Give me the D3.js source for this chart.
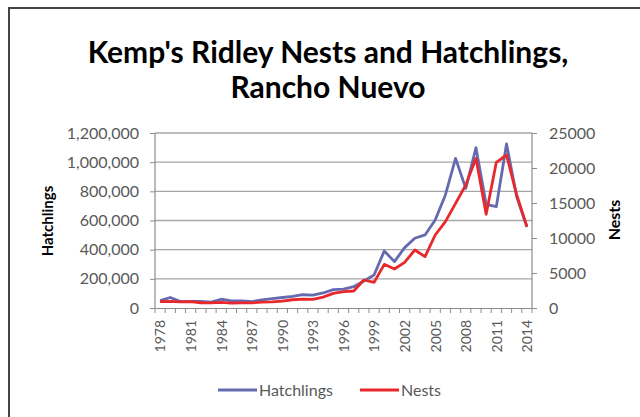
<!DOCTYPE html>
<meta charset="utf-8">
<style>
  body { margin: 0; background: #fff; }
  text { font-family: Lato, "Open Sans", sans-serif; }
</style>
<body>
  <div id="chart"></div>
  <script src="https://d3js.org/d3.v7.min.js"></script>
  <script>
    // years on the category axis
    var years = d3.range(1978, 2015);

    // hatchlings (left axis)
    var hatchlings = [51000, 72000, 44000, 46000, 45000, 40000, 60000, 49000, 49000, 44000,
      56000, 65000, 72000, 79000, 91000, 88000, 103000, 126000, 130000, 146000,
      185000, 226000, 391000, 318000, 414000, 478000, 501000, 603000, 775000, 1026000,
      820000, 1099000, 711000, 695000, 1125000, 763000, 555000];

    // nests (right axis)
    var nests = [924, 954, 868, 897, 750, 746, 798, 702, 744, 737,
      842, 878, 992, 1178, 1275, 1241, 1562, 2095, 2333, 2429,
      4000, 3667, 6238, 5571, 6524, 8286, 7333, 10429, 12333, 14952,
      17571, 21381, 13381, 20810, 21857, 16143, 11619];

    var leftTicks = [0, 200000, 400000, 600000, 800000, 1000000, 1200000];
    var rightTicks = [0, 5000, 10000, 15000, 20000, 25000];
    var yearLabels = d3.range(1978, 2015, 3);

    var W = 640, H = 417;
    var margin = { top: 133, right: 108, bottom: 109, left: 155 },
      width = W - margin.left - margin.right,
      height = H - margin.top - margin.bottom;

    var svg = d3.select("#chart").append("svg")
      .attr("width", W)
      .attr("height", H);

    // frame (only top and left edges visible)
    svg.append("line").attr("x1", 8).attr("x2", W).attr("y1", 8).attr("y2", 8)
      .attr("stroke", "#444").attr("stroke-width", 2);
    svg.append("line").attr("x1", 9).attr("x2", 9).attr("y1", 8).attr("y2", H)
      .attr("stroke", "#444").attr("stroke-width", 2);

    // title
    var title = svg.append("text")
      .attr("text-anchor", "middle")
      .attr("font-weight", "bold")
      .attr("font-size", 30)
      .attr("fill", "#000");
    title.append("tspan").attr("x", 328).attr("y", 63).text("Kemp's Ridley Nests and Hatchlings,");
    title.append("tspan").attr("x", 328).attr("y", 98).text("Rancho Nuevo");

    var g = svg.append("g")
      .attr("transform", "translate(" + margin.left + "," + margin.top + ")");

    var x = d3.scaleBand().domain(years).range([0, width]);
    var yL = d3.scaleLinear().domain([0, 1200000]).range([height, 0]);
    var yR = d3.scaleLinear().domain([0, 25000]).range([height, 0]);

    // gridlines
    g.append("g")
      .selectAll("line")
      .data(leftTicks.slice(1))
      .enter().append("line")
      .attr("x1", 0).attr("x2", width)
      .attr("y1", function(d) { return yL(d); })
      .attr("y2", function(d) { return yL(d); })
      .attr("stroke", "#a6a6a6")
      .attr("stroke-width", 1.4);

    // left axis
    var axL = g.append("g")
      .call(d3.axisLeft(yL).tickValues(leftTicks).tickFormat(d3.format(",")).tickSize(5).tickPadding(11));
    // right axis
    var axR = g.append("g")
      .attr("transform", "translate(" + width + ",0)")
      .call(d3.axisRight(yR).tickValues(rightTicks).tickFormat(d3.format("d")).tickSize(5).tickPadding(12));
    // bottom axis
    var axB = g.append("g")
      .attr("transform", "translate(0," + height + ")")
      .call(d3.axisBottom(x).tickSize(0).tickFormat(function(d) { return yearLabels.indexOf(d) >= 0 ? d : ""; }));

    // category tick marks between bands
    g.append("g").selectAll("line")
      .data(years.concat([2015]))
      .enter().append("line")
      .attr("x1", function(d, i) { return i * x.step(); })
      .attr("x2", function(d, i) { return i * x.step(); })
      .attr("y1", height).attr("y2", height + 5)
      .attr("stroke", "#8c8c8c");

    [axL, axR, axB].forEach(function(a) {
      a.select(".domain").attr("stroke", "#8c8c8c").attr("stroke-width", 1.2);
      a.selectAll(".tick line").attr("stroke", "#8c8c8c");
      a.selectAll("text").attr("fill", "#595959").attr("font-size", 16)
        .style("font-family", "Lato, 'Open Sans', sans-serif");
    });
    axL.select(".domain").attr("d", "M0," + height + "V0");
    axR.select(".domain").attr("d", "M0," + height + "V0");

    axB.selectAll("text")
      .attr("transform", "rotate(-90)")
      .attr("text-anchor", "end")
      .attr("font-size", 14)
      .attr("x", -12)
      .attr("y", 0)
      .attr("dy", "0.38em");

    // lines
    var lineH = d3.line()
      .x(function(d, i) { return x(years[i]) + x.bandwidth() / 2; })
      .y(function(d) { return yL(d); });
    var lineN = d3.line()
      .x(function(d, i) { return x(years[i]) + x.bandwidth() / 2; })
      .y(function(d) { return yR(d); });

    g.append("path").datum(hatchlings)
      .attr("d", lineH)
      .attr("fill", "none")
      .attr("stroke", "#6569b0")
      .attr("stroke-width", 2.8)
      .attr("stroke-linejoin", "round");
    g.append("path").datum(nests)
      .attr("d", lineN)
      .attr("fill", "none")
      .attr("stroke", "#e8282b")
      .attr("stroke-width", 2.8)
      .attr("stroke-linejoin", "round");

    // axis titles
    svg.append("text")
      .attr("transform", "translate(53,221) rotate(-90)")
      .attr("text-anchor", "middle")
      .attr("font-weight", "bold")
      .attr("font-size", 15)
      .attr("fill", "#000")
      .text("Hatchlings");
    svg.append("text")
      .attr("transform", "translate(620,220) rotate(-90)")
      .attr("text-anchor", "middle")
      .attr("font-weight", "bold")
      .attr("font-size", 16)
      .attr("fill", "#000")
      .text("Nests");

    // legend
    var legend = [
      { name: "Hatchlings", color: "#6569b0", x: 218 },
      { name: "Nests", color: "#e8282b", x: 360 }
    ];
    var lg = svg.append("g").selectAll("g").data(legend).enter().append("g")
      .attr("transform", function(d) { return "translate(" + d.x + ",390)"; });
    lg.append("line").attr("x1", 0).attr("x2", 39).attr("y1", 0).attr("y2", 0)
      .attr("stroke", function(d) { return d.color; }).attr("stroke-width", 2.8);
    lg.append("text").attr("x", 41).attr("dy", "0.35em")
      .attr("font-size", 16).attr("fill", "#595959")
      .text(function(d) { return d.name; });
  </script>
</body>
